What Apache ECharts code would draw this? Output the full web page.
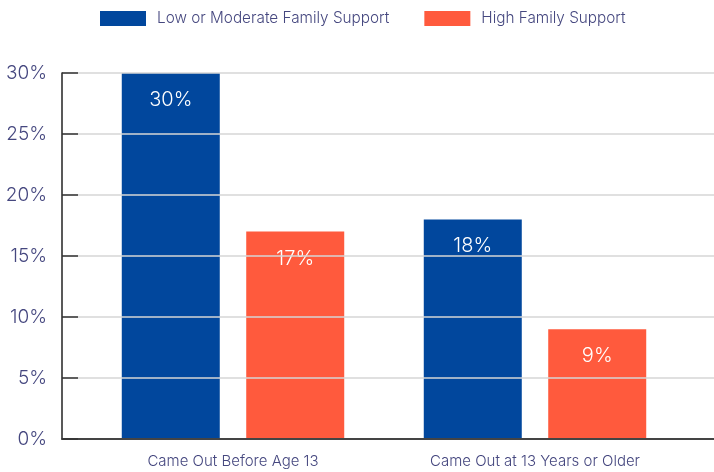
<!DOCTYPE html>
<html>
<head>
<meta charset="utf-8">
<script src="https://cdn.jsdelivr.net/npm/echarts@6/dist/echarts.min.js"></script>
<style>html,body{margin:0;padding:0;background:#fff}#c{width:714px;height:472px}</style>
</head>
<body>
<div id="c"></div>
<script>
const categories = ['Came Out Before Age 13', 'Came Out at 13 Years or Older'];
const seriesNames = ['Low or Moderate Family Support', 'High Family Support'];
const lowModerate = [30, 18];
const highSupport = [17, 9];
const yTicks = [0, 5, 10, 15, 20, 25, 30];

const FONT = 'Inter';
const TXT = '#45477f';
const chart = echarts.init(document.getElementById('c'), null, {renderer: 'canvas'});
chart.setOption({
  animation: false,
  textStyle: {fontFamily: FONT},
  legend: {
    top: 6, left: 95, icon: 'rect',
    itemWidth: 46, itemHeight: 15, itemGap: 35,
    textStyle: {fontSize: 15.3, color: TXT, fontFamily: FONT, fontWeight: 300, padding: [0, 0, 0, 6]},
    data: seriesNames
  },
  grid: [
    {left: 62, right: 0, top: 73, bottom: 33},
    {left: 82, right: 28, top: 73, bottom: 33}
  ],
  xAxis: [
    {gridIndex: 0, type: 'category', data: categories, axisLabel: {show: false}, axisTick: {show: false},
     axisLine: {lineStyle: {color: '#444', width: 2}}, z: 5},
    {gridIndex: 1, type: 'category', data: categories, axisLine: {show: false}, axisTick: {show: false},
     axisLabel: {fontSize: 15, color: TXT, margin: 15, fontFamily: FONT, fontWeight: 300}}
  ],
  yAxis: [
    {gridIndex: 0, type: 'value', min: yTicks[0], max: yTicks[yTicks.length - 1], interval: 5,
     axisLine: {show: true, lineStyle: {color: '#222', width: 1.5}},
     axisTick: {show: true, inside: true, length: 16, lineStyle: {color: '#333', width: 1.5}},
     axisLabel: {formatter: v => v + '%', fontSize: 19, color: TXT, margin: 15, fontFamily: FONT, fontWeight: 300},
     splitLine: {lineStyle: {color: '#d6d6d6', width: 1.5}}, z: 5},
    {gridIndex: 1, type: 'value', min: 0, max: 30, show: false}
  ],
  series: [
    {name: seriesNames[0], type: 'bar', xAxisIndex: 1, yAxisIndex: 1, data: lowModerate,
     barWidth: 98, barGap: '27%', itemStyle: {color: '#01479d'},
     label: {show: true, position: 'insideTop', distance: 17, formatter: p => p.value + '%',
             color: '#fff', fontSize: 20, fontFamily: FONT, fontWeight: 300}},
    {name: seriesNames[1], type: 'bar', xAxisIndex: 1, yAxisIndex: 1, data: highSupport,
     barWidth: 98, barGap: '27%', itemStyle: {color: '#ff5a3d'},
     label: {show: true, position: 'insideTop', distance: 17, formatter: p => p.value + '%',
             color: '#fff', fontSize: 20, fontFamily: FONT, fontWeight: 300}}
  ]
});
</script>
</body>
</html>
